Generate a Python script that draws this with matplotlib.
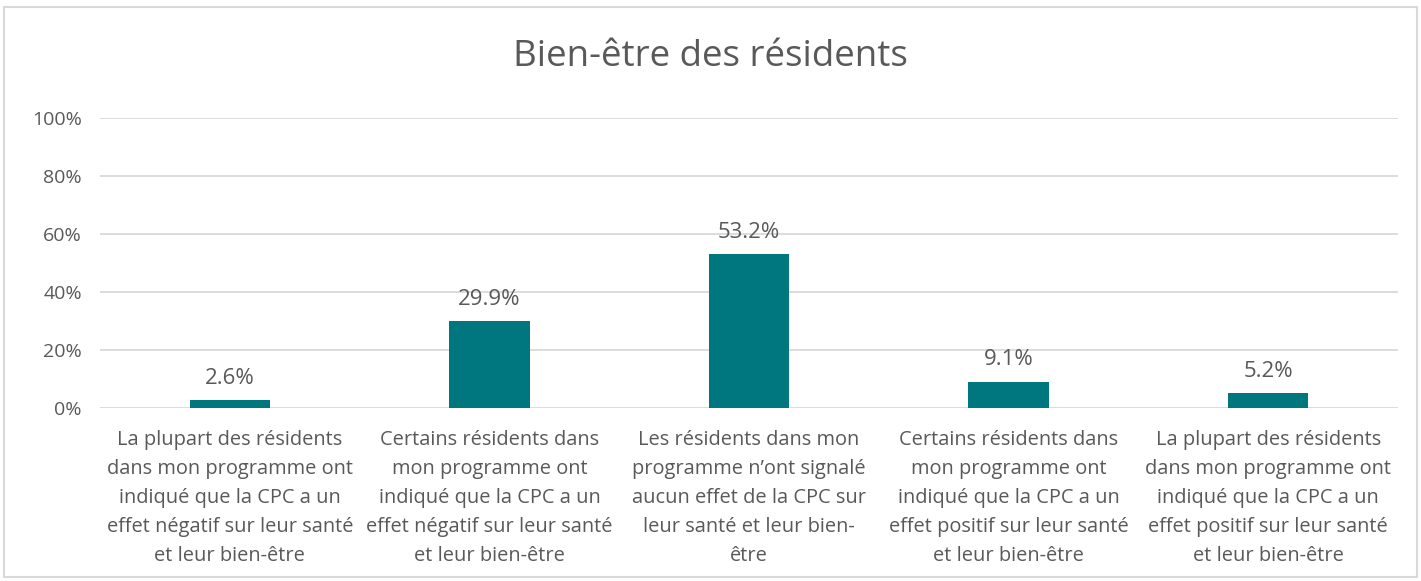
import matplotlib
matplotlib.use("Agg")
import matplotlib.pyplot as plt
from matplotlib.patches import Rectangle

categories = [
    "La plupart des résidents\ndans mon programme ont\nindiqué que la CPC a un\neffet négatif sur leur santé\net leur bien-être",
    "Certains résidents dans\nmon programme ont\nindiqué que la CPC a un\neffet négatif sur leur santé\net leur bien-être",
    "Les résidents dans mon\nprogramme n’ont signalé\naucun effet de la CPC sur\nleur santé et leur bien-\nêtre",
    "Certains résidents dans\nmon programme ont\nindiqué que la CPC a un\neffet positif sur leur santé\net leur bien-être",
    "La plupart des résidents\ndans mon programme ont\nindiqué que la CPC a un\neffet positif sur leur santé\net leur bien-être",
]
values = [0.026, 0.299, 0.532, 0.091, 0.052]
value_labels = ["2.6%", "29.9%", "53.2%", "9.1%", "5.2%"]
yticks = [0, 0.2, 0.4, 0.6, 0.8, 1.0]
ytick_labels = ["0%", "20%", "40%", "60%", "80%", "100%"]
title = "Bien-être des résidents"

plt.rcParams['font.family'] = ['Open Sans', 'DejaVu Sans']
text_color = "#595959"
bar_color = "#00767E"
grid_color = "#D9D9D9"

fig = plt.figure(figsize=(14.21, 5.81), dpi=100)
ax = fig.add_axes([100/1421, 1-408/581, (1398-100)/1421, (408-118)/581])

x = list(range(len(values)))
bars = ax.bar(x, values, width=0.31, color=bar_color, zorder=3)
ax.set_xlim(-0.5, len(values)-0.5)
ax.set_ylim(0, 1.0)
ax.set_yticks(yticks)
ax.set_yticklabels(ytick_labels, fontsize=14, color=text_color)
ax.set_xticks(x)
ax.set_xticklabels(categories, fontsize=14.4, color=text_color, linespacing=1.6)
ax.tick_params(axis='both', length=0)
ax.tick_params(axis='y', pad=13)
ax.tick_params(axis='x', pad=16)
ax.grid(axis='y', color=grid_color, linewidth=1.3, zorder=0)
for s in ax.spines.values():
    s.set_visible(False)

for xi, v, lab in zip(x, values, value_labels):
    ax.annotate(lab, (xi, v), xytext=(0, 8), textcoords='offset points',
                ha='center', va='bottom', fontsize=16, color=text_color)

fig.text(0.5, 1-57/581, title, ha='center', va='center', fontsize=26.5, color=text_color)

fig.patches.append(Rectangle((4/1421, 4/581), 1-8/1421, 1-11/581, transform=fig.transFigure,
                             fill=False, edgecolor="#D9D9D9", linewidth=1.5))

fig.savefig("out.png", dpi=100, facecolor="white")
